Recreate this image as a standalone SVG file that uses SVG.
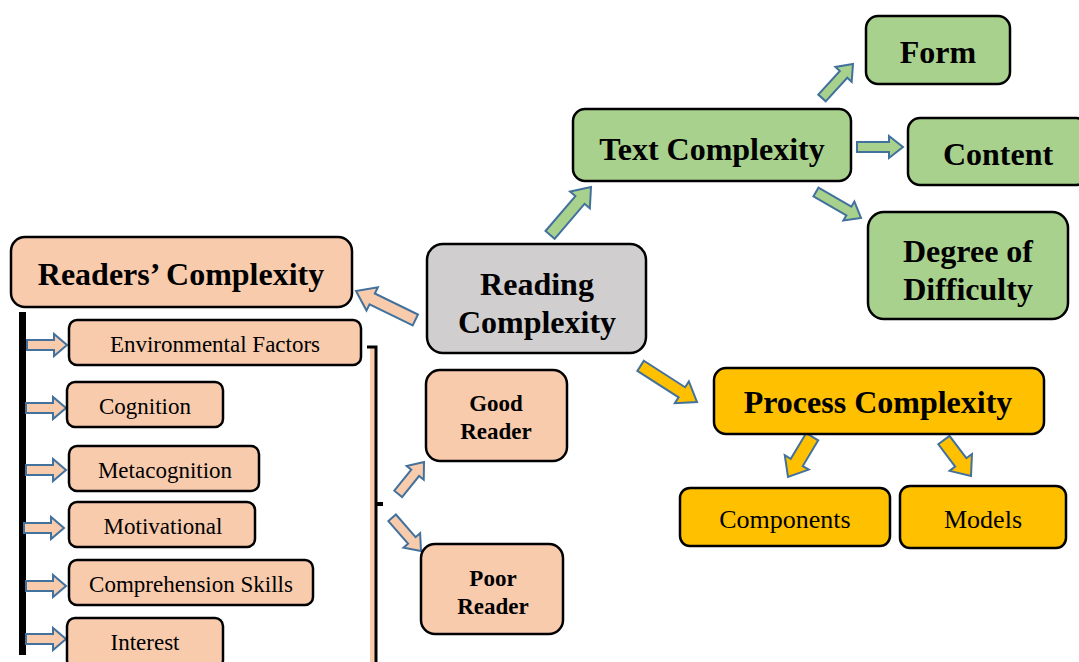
<svg xmlns="http://www.w3.org/2000/svg" width="1079" height="662" viewBox="0 0 1079 662">
<style>
.box{stroke:#000;stroke-width:2.5}
.peach{fill:#F8CBAD}
.green{fill:#A9D18E}
.gold{fill:#FFC000}
.gray{fill:#D0CECE}
.arr{stroke:#41719C;stroke-width:2;stroke-linejoin:miter}
.tb{font-family:"Liberation Serif","Times New Roman",serif;font-weight:bold;fill:#000;text-anchor:middle}
.tr{font-family:"Liberation Serif","Times New Roman",serif;fill:#000;text-anchor:middle}
</style>
<rect width="1079" height="662" fill="#fff"/>
<g id="connectors">
  <!-- left black spine -->
  <rect x="19" y="312" width="7" height="343" fill="#000"/>
  <!-- bracket -->
  <rect x="370" y="348" width="5" height="316" fill="#F8CBAD"/>
  <path d="M367,347 H376 V664" fill="none" stroke="#000" stroke-width="3"/>
  <path d="M376,504 H383" fill="none" stroke="#000" stroke-width="4"/>
  <!-- small arrows to reader factors -->
  <g class="arr peach">
    <path d="M-40,-5 L-13,-5 L-13,-11 L0,0 L-13,11 L-13,5 L-40,5 Z" transform="translate(67,345)"/>
    <path d="M-40,-5 L-13,-5 L-13,-11 L0,0 L-13,11 L-13,5 L-40,5 Z" transform="translate(66,408)"/>
    <path d="M-40,-5 L-13,-5 L-13,-11 L0,0 L-13,11 L-13,5 L-40,5 Z" transform="translate(66,470)"/>
    <path d="M-40,-5 L-13,-5 L-13,-11 L0,0 L-13,11 L-13,5 L-40,5 Z" transform="translate(64,528)"/>
    <path d="M-40,-5 L-13,-5 L-13,-11 L0,0 L-13,11 L-13,5 L-40,5 Z" transform="translate(66,586)"/>
    <path d="M-40,-5 L-13,-5 L-13,-11 L0,0 L-13,11 L-13,5 L-40,5 Z" transform="translate(66,639)"/>
    <!-- reading -> readers -->
    <path d="M-66,-6 L-18,-6 L-18,-13 L0,0 L-18,13 L-18,6 L-66,6 Z" transform="translate(356,291) rotate(206)"/>
    <!-- bracket -> good / poor -->
    <path d="M-41,-5 L-14,-5 L-14,-11 L0,0 L-14,11 L-14,5 L-41,5 Z" transform="translate(424,462) rotate(-51)"/>
    <path d="M-44,-5 L-14,-5 L-14,-11 L0,0 L-14,11 L-14,5 L-44,5 Z" transform="translate(421,551) rotate(49)"/>
  </g>
  <g class="arr green">
    <path d="M-63,-6 L-17,-6 L-17,-13 L0,0 L-17,13 L-17,6 L-63,6 Z" transform="translate(591,187) rotate(-49.5)"/>
    <path d="M-46,-5 L-14,-5 L-14,-11 L0,0 L-14,11 L-14,5 L-46,5 Z" transform="translate(853,64) rotate(-47.6)"/>
    <path d="M-46,-5 L-14,-5 L-14,-11 L0,0 L-14,11 L-14,5 L-46,5 Z" transform="translate(903,147)"/>
    <path d="M-52,-5 L-14,-5 L-14,-11 L0,0 L-14,11 L-14,5 L-52,5 Z" transform="translate(861,218) rotate(30)"/>
  </g>
  <g class="arr gold">
    <path d="M-67,-6 L-18,-6 L-18,-13 L0,0 L-18,13 L-18,6 L-67,6 Z" transform="translate(697,402) rotate(32.7)"/>
    <path d="M-47,-7 L-17,-7 L-17,-14 L0,0 L-17,14 L-17,7 L-47,7 Z" transform="translate(788,477) rotate(121)"/>
    <path d="M-45,-7 L-17,-7 L-17,-14 L0,0 L-17,14 L-17,7 L-45,7 Z" transform="translate(971,476) rotate(53)"/>
  </g>
</g>
<g id="reading">
  <rect class="box gray" x="427" y="244" width="219" height="109" rx="16"/>
  <text class="tb" x="537" y="295" font-size="32">Reading</text>
  <text class="tb" x="537" y="333" font-size="32">Complexity</text>
</g>
<g id="readers">
  <rect class="box peach" x="11" y="237" width="341" height="70" rx="14"/>
  <text class="tb" x="181" y="285" font-size="32">Readers’ Complexity</text>
</g>
<g id="env">
  <rect class="box peach" x="69" y="320" width="292" height="45" rx="8"/>
  <text class="tr" x="215" y="352" font-size="23">Environmental Factors</text>
</g>
<g id="cognition">
  <rect class="box peach" x="67" y="382" width="156" height="45" rx="8"/>
  <text class="tr" x="145" y="414" font-size="23">Cognition</text>
</g>
<g id="metacognition">
  <rect class="box peach" x="69" y="446" width="190" height="45" rx="8"/>
  <text class="tr" x="165" y="478" font-size="23">Metacognition</text>
</g>
<g id="motivational">
  <rect class="box peach" x="69" y="502" width="186" height="45" rx="8"/>
  <text class="tr" x="163" y="534" font-size="23">Motivational</text>
</g>
<g id="comprehension">
  <rect class="box peach" x="69" y="560" width="244" height="45" rx="8"/>
  <text class="tr" x="191" y="592" font-size="23">Comprehension Skills</text>
</g>
<g id="interest">
  <rect class="box peach" x="67" y="618" width="156" height="50" rx="8"/>
  <text class="tr" x="145" y="650" font-size="23">Interest</text>
</g>
<g id="good">
  <rect class="box peach" x="426" y="370" width="141" height="91" rx="14"/>
  <text class="tb" x="496" y="411" font-size="23">Good</text>
  <text class="tb" x="496" y="439" font-size="23">Reader</text>
</g>
<g id="poor">
  <rect class="box peach" x="421" y="544" width="142" height="90" rx="14"/>
  <text class="tb" x="493" y="586" font-size="23">Poor</text>
  <text class="tb" x="493" y="614" font-size="23">Reader</text>
</g>
<g id="text">
  <rect class="box green" x="573" y="109" width="278" height="72" rx="12"/>
  <text class="tb" x="712" y="160" font-size="32">Text Complexity</text>
</g>
<g id="form">
  <rect class="box green" x="866" y="16" width="144" height="68" rx="12"/>
  <text class="tb" x="938" y="63" font-size="32">Form</text>
</g>
<g id="content">
  <rect class="box green" x="908" y="118" width="180" height="67" rx="12"/>
  <text class="tb" x="998" y="165" font-size="32">Content</text>
</g>
<g id="degree">
  <rect class="box green" x="868" y="212" width="200" height="107" rx="16"/>
  <text class="tb" x="968" y="262" font-size="32">Degree of</text>
  <text class="tb" x="968" y="300" font-size="32">Difficulty</text>
</g>
<g id="process">
  <rect class="box gold" x="714" y="368" width="330" height="66" rx="12"/>
  <text class="tb" x="878" y="413" font-size="32">Process Complexity</text>
</g>
<g id="components">
  <rect class="box gold" x="680" y="488" width="210" height="58" rx="10"/>
  <text class="tr" x="785" y="528" font-size="26">Components</text>
</g>
<g id="models">
  <rect class="box gold" x="900" y="486" width="166" height="62" rx="10"/>
  <text class="tr" x="983" y="528" font-size="26">Models</text>
</g>
</svg>
